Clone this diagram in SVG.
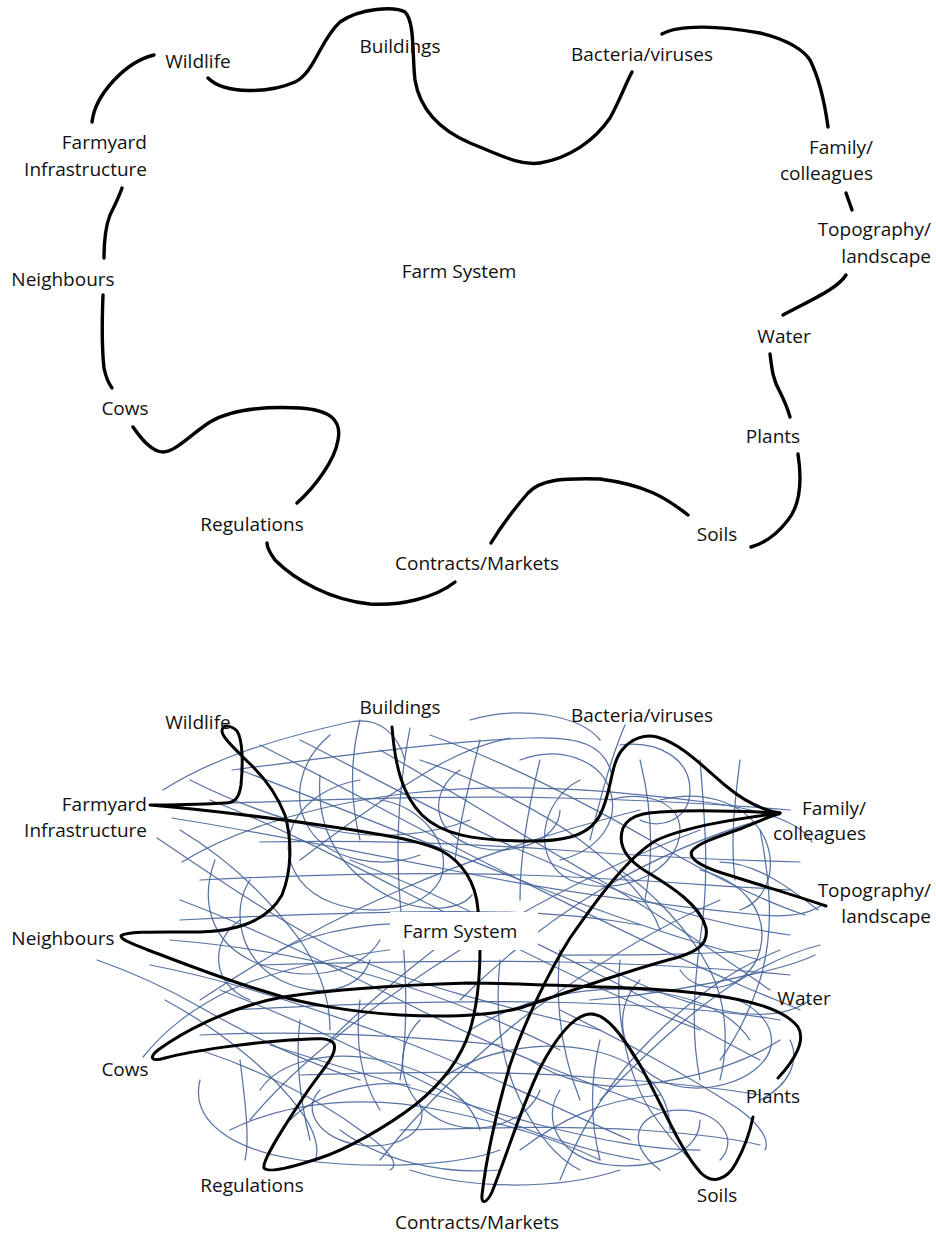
<svg xmlns="http://www.w3.org/2000/svg" width="936" height="1236" viewBox="0 0 936 1236">
<style>
text{font-family:"Open Sans","Liberation Sans",Arial,sans-serif;font-size:19px;fill:#111}
.m{text-anchor:middle}.e{text-anchor:end}
.k{fill:none;stroke:#000;stroke-width:3.4;stroke-linecap:round;stroke-linejoin:round}
.k2{fill:none;stroke:#000;stroke-width:3;stroke-linecap:round;stroke-linejoin:round}
.b{fill:none;stroke:#46649a;stroke-width:1.25;stroke-linecap:round;opacity:.9}
</style>
<rect width="936" height="1236" fill="#fff"/>

<g id="connectors-top">
<path class="k" d="M154,55 C125,62 95,95 92,122"/>
<path class="k" d="M208,78 C225,95 270,93 295,82 C315,72 320,40 340,22 C360,8 395,6 405,12 C415,22 412,55 415,80 C420,110 440,130 470,143 C500,155 520,166 540,163 C570,158 595,140 610,118 C620,100 625,85 632,72"/>
<path class="k" d="M662,34 C680,24 720,26 760,33 C790,40 805,52 810,60 C820,80 825,105 828,127"/>
<path class="k" d="M846,193 L852,210"/>
<path class="k" d="M846,275 C838,288 815,298 783,315"/>
<path class="k" d="M770,354 C772,370 773,380 780,392 C785,402 788,410 790,417"/>
<path class="k" d="M798,454 C802,480 800,505 788,520 C775,537 762,544 751,547"/>
<path class="k" d="M688,515 C665,497 645,485 600,479 C560,478 540,480 528,493 C515,508 500,528 491,543"/>
<path class="k" d="M455,582 C435,598 400,606 370,604 C330,600 295,580 275,560 C270,553 267,548 267,543"/>
<path class="k" d="M297,503 C315,487 335,460 338,440 C342,420 330,410 300,408 C260,406 230,410 210,422 C190,435 175,452 163,452 C152,452 142,440 133,427"/>
<path class="k" d="M103,295 C102,320 102,350 104,368 C106,378 109,384 112,388"/>
<path class="k" d="M104,258 C104,240 105,228 110,215 C115,205 119,197 122,188"/>
</g>

<g id="scribble">
<path class="b" d="M163,790 C210,760 270,740 350,722 C380,716 398,735 405,760"/>
<path class="b" d="M157,838 C220,880 290,930 360,960 C430,990 520,1010 600,1030"/>
<path class="b" d="M232,770 C330,758 430,742 530,738 C580,736 605,745 612,775"/>
<path class="b" d="M320,775 C316,830 340,872 392,898 C425,914 460,910 472,895"/>
<path class="b" d="M172,818 C260,832 360,852 460,872 C560,892 660,905 760,915 C795,918 812,912 822,905"/>
<path class="b" d="M182,862 C230,832 310,805 410,793 C510,782 610,790 705,802 C765,810 800,822 812,842"/>
<path class="b" d="M97,960 C140,975 170,990 200,1007 C240,1030 300,1060 360,1080"/>
<path class="b" d="M143,1057 C165,1030 190,1010 230,990 C300,960 400,945 500,940"/>
<path class="b" d="M240,770 C320,800 420,840 520,880 C600,912 680,940 760,960"/>
<path class="b" d="M260,745 C330,780 420,830 500,870 C580,910 660,950 740,985 C770,998 790,1005 800,1010"/>
<path class="b" d="M210,800 C300,835 380,880 460,920 C540,960 620,1000 700,1030"/>
<path class="b" d="M300,740 C360,770 440,815 520,850 C600,885 680,920 790,935"/>
<path class="b" d="M180,900 C260,930 340,970 420,1010 C500,1050 580,1080 660,1110"/>
<path class="b" d="M220,990 C300,1020 380,1060 460,1100 C520,1130 580,1150 640,1160"/>
<path class="b" d="M380,750 C450,790 530,840 600,880 C660,915 720,955 770,990"/>
<path class="b" d="M150,965 C230,980 320,1010 400,1040 C480,1070 560,1110 630,1140"/>
<path class="b" d="M430,735 C500,760 580,800 650,840 C710,875 760,900 805,915"/>
<path class="b" d="M270,1045 C350,1070 450,1100 540,1125 C600,1140 650,1150 700,1150"/>
<path class="b" d="M560,1010 C620,1040 680,1070 740,1110 C760,1125 770,1140 765,1150"/>
<path class="b" d="M350,860 C430,890 520,935 600,975 C660,1005 720,1040 760,1060"/>
<path class="b" d="M200,880 C300,875 420,872 520,875 C620,878 700,885 790,890"/>
<path class="b" d="M180,920 C280,915 400,910 500,912 C560,913 600,918 640,925"/>
<path class="b" d="M260,965 C360,962 460,960 560,962 C640,964 720,968 790,975"/>
<path class="b" d="M230,1010 C330,1005 440,1000 540,1002 C640,1004 720,1010 780,1020"/>
<path class="b" d="M300,1075 C400,1072 500,1070 600,1078 C660,1082 720,1088 760,1095"/>
<path class="b" d="M200,1035 C300,1030 400,1035 500,1045"/>
<path class="b" d="M260,842 C360,840 460,843 560,850 C640,856 720,860 800,862"/>
<path class="b" d="M400,1130 C480,1128 560,1125 640,1130 C700,1134 740,1140 760,1145"/>
<path class="b" d="M230,803 C330,800 440,795 560,798 C650,800 730,805 790,810"/>
<path class="b" d="M560,955 C630,955 700,955 760,950"/>
<path class="b" d="M360,780 C300,790 270,840 300,880 C330,920 420,920 440,880 C455,845 420,805 380,800"/>
<path class="b" d="M580,780 C540,800 530,860 570,880 C620,900 680,870 680,830 C680,800 640,790 610,800"/>
<path class="b" d="M200,1080 C190,1120 230,1150 300,1160 C380,1170 460,1165 500,1150"/>
<path class="b" d="M640,980 C610,1010 620,1060 660,1080 C700,1100 760,1080 770,1050 C780,1020 740,990 700,995"/>
<path class="b" d="M420,1020 C390,1050 400,1100 440,1120 C480,1140 530,1120 540,1090"/>
<path class="b" d="M250,880 C230,910 240,960 280,980 C320,1000 360,990 370,960"/>
<path class="b" d="M700,870 C740,880 770,910 760,950 C750,990 700,1000 680,970"/>
<path class="b" d="M560,1090 C540,1120 560,1160 610,1165 C660,1170 700,1150 700,1120"/>
<path class="b" d="M460,770 C430,790 430,830 470,845 C510,860 560,840 560,810"/>
<path class="b" d="M320,1090 C300,1110 320,1140 360,1145 C400,1150 430,1130 420,1105"/>
<path class="b" d="M620,745 C660,740 690,760 690,790 C690,820 660,830 640,820"/>
<path class="b" d="M240,920 C210,940 210,985 250,1000"/>
<path class="b" d="M250,1120 C300,1060 380,1000 460,950 C540,900 620,860 700,830"/>
<path class="b" d="M200,1000 C260,960 330,920 400,890 C480,855 560,830 640,810"/>
<path class="b" d="M380,1160 C420,1110 470,1060 520,1020 C580,975 650,930 720,900"/>
<path class="b" d="M300,860 C340,830 380,800 430,770 C460,752 490,742 510,738"/>
<path class="b" d="M560,1180 C580,1130 610,1080 650,1040 C690,1000 730,970 780,950"/>
<path class="b" d="M460,1000 C500,960 550,920 600,890 C660,855 720,830 780,815"/>
<path class="b" d="M600,1100 C640,1060 690,1010 740,980 C770,962 800,950 820,945"/>
<path class="b" d="M330,1040 C370,1000 420,960 460,930"/>
<path class="b" d="M410,728 C400,780 395,840 400,900 C405,960 410,1020 400,1080"/>
<path class="b" d="M500,960 C495,1010 500,1060 520,1100 C540,1140 560,1160 580,1170"/>
<path class="b" d="M560,950 C555,1000 560,1050 580,1100"/>
<path class="b" d="M700,760 C705,820 710,880 700,940 C695,980 690,1030 700,1080"/>
<path class="b" d="M620,960 C615,1010 625,1070 650,1110 C670,1140 690,1160 700,1170"/>
<path class="b" d="M300,1020 C295,1060 300,1100 310,1140"/>
<path class="b" d="M480,740 C470,780 460,820 455,860"/>
<path class="b" d="M240,1060 C245,1100 250,1140 245,1160"/>
<path class="b" d="M760,830 C770,880 775,930 760,980 C750,1010 735,1040 720,1060"/>
<path class="b" d="M640,760 C650,800 655,850 645,900"/>
<path class="b" d="M410,1170 C470,1190 560,1190 620,1170"/>
<path class="b" d="M660,1170 C620,1140 640,1110 680,1110 C720,1110 740,1140 720,1160"/>
<path class="b" d="M340,1130 C380,1160 440,1175 500,1170"/>
<path class="b" d="M760,1100 C790,1085 800,1060 790,1040"/>
<path class="b" d="M470,720 C520,705 580,715 600,740"/>
<path class="b" d="M625,725 C610,760 600,800 590,840"/>
<path class="b" d="M818,910 C780,880 750,862 720,862"/>
<path class="b" d="M190,780 C230,800 280,820 330,830 C380,840 430,835 470,820"/>
<path class="b" d="M215,860 C200,900 210,940 250,960 C300,985 360,975 380,940"/>
<path class="b" d="M330,735 C300,760 290,800 310,830 C330,860 380,870 420,855"/>
<path class="b" d="M520,760 C560,745 600,760 610,790 C620,820 600,850 560,860"/>
<path class="b" d="M660,800 C700,790 740,800 760,830 C780,860 770,900 740,910"/>
<path class="b" d="M170,940 C230,945 300,955 370,975 C440,995 500,1020 560,1050"/>
<path class="b" d="M590,960 C630,980 670,1000 720,1010 C760,1018 790,1015 810,1000"/>
<path class="b" d="M260,1090 C280,1060 330,1050 380,1060 C430,1070 470,1095 480,1130"/>
<path class="b" d="M440,1080 C480,1050 540,1040 590,1050 C640,1060 670,1090 670,1130"/>
<path class="b" d="M230,1130 C290,1100 370,1095 440,1110 C500,1122 560,1140 600,1160"/>
<path class="b" d="M200,1050 C260,1070 320,1100 360,1130 C390,1150 400,1165 390,1170"/>
<path class="b" d="M540,760 C530,800 520,850 520,900"/>
<path class="b" d="M360,720 C350,760 350,800 360,840"/>
<path class="b" d="M740,760 C735,800 730,840 735,880"/>
<path class="b" d="M600,1040 C590,1080 590,1120 600,1160"/>
<path class="b" d="M360,1000 C355,1040 360,1080 380,1110"/>
<path class="b" d="M530,1060 C560,1080 600,1090 640,1085 C700,1078 750,1060 780,1040"/>
<path class="b" d="M280,950 C320,930 380,920 430,925"/>
<path class="b" d="M420,760 C480,780 540,810 580,840 C620,870 650,900 660,930"/>
<path class="b" d="M180,830 C230,860 270,900 300,940 C320,970 330,1000 330,1030"/>
<path class="b" d="M590,1000 C650,995 710,985 770,970 C790,965 805,960 815,955"/>
<path class="b" d="M470,1030 C520,1000 580,985 640,990 C690,995 730,1010 750,1040"/>
<path class="b" d="M620,870 C650,890 690,930 710,970 C725,1000 730,1040 720,1080"/>
<path class="b" d="M520,1150 C560,1120 600,1100 660,1095"/>
<path class="b" d="M290,1120 C320,1090 370,1080 410,1085"/>
<path class="b" d="M165,1000 C220,1030 270,1070 300,1110 C315,1130 320,1150 315,1160"/>
</g>

<g id="connectors-bottom">
<path class="k2" d="M392,727 C395,765 402,795 422,815 C442,835 475,840 520,841 C560,842 588,838 600,815 C612,792 610,765 622,750 C632,738 645,734 657,737 C682,744 702,766 726,786 C745,802 762,810 780,813 C760,812 720,810 680,811 C652,812 630,812 623,828 C617,845 627,860 647,872 C672,887 700,905 706,928 C709,945 696,953 668,960 C620,973 560,995 520,1008 C488,1016 440,1017 400,1015 C350,1012 300,1003 270,993 C225,980 180,962 148,950 C133,944 121,940 121,936 C126,931 160,932 200,932 C240,931 268,920 282,895 C292,870 292,840 285,815 C276,792 262,775 248,762 C234,748 222,737 222,731 C222,724 231,725 237,731 C243,740 243,765 241,785 C239,800 233,803 225,803 C205,804 180,805 150,805 C185,808 250,815 320,825 C380,834 420,840 442,851 C462,862 476,882 478,910 C481,940 482,990 470,1030 C460,1062 440,1085 415,1105 C385,1128 345,1150 320,1158 C290,1168 268,1173 264,1168 C262,1160 285,1125 305,1095 C320,1072 338,1055 334,1044 C330,1036 310,1039 290,1040 C250,1043 195,1050 165,1058 C152,1062 148,1058 158,1050 C180,1034 225,1008 283,997 C330,990 400,985 468,983 C520,983 560,986 600,987 C640,988 680,990 710,995 C750,1000 785,1010 798,1027 C806,1040 795,1060 778,1078"/>
<path class="k2" d="M826,906 C800,897 760,885 722,873 C700,866 688,858 692,851 C698,843 720,836 740,829 C755,823 768,817 780,813 C745,818 690,825 657,840 C630,855 600,895 570,938 C550,970 525,1020 510,1065 C497,1110 486,1160 482,1195 C481,1205 487,1203 492,1192 C505,1160 522,1105 540,1068 C556,1038 574,1015 590,1014 C606,1013 622,1035 640,1065 C660,1100 680,1150 700,1172 C712,1185 727,1180 736,1163 C745,1147 750,1132 753,1117"/>
</g>

<g id="top-wildlife"><text class="m" x="198" y="68">Wildlife</text></g>
<g id="top-buildings"><text class="m" x="400" y="53">Buildings</text></g>
<g id="top-bacteria"><text class="m" x="642" y="61">Bacteria/viruses</text></g>
<g id="top-farmyard"><text class="e" x="147" y="149">Farmyard</text><text class="e" x="147" y="176">Infrastructure</text></g>
<g id="top-neighbours"><text class="m" x="63" y="286">Neighbours</text></g>
<g id="top-farm-system"><text class="m" x="459" y="278">Farm System</text></g>
<g id="top-family"><text class="e" x="873" y="154">Family/</text><text class="e" x="873" y="180">colleagues</text></g>
<g id="top-topography"><text class="e" x="931" y="236">Topography/</text><text class="e" x="931" y="263">landscape</text></g>
<g id="top-water"><text class="m" x="784" y="343">Water</text></g>
<g id="top-plants"><text class="m" x="773" y="443">Plants</text></g>
<g id="top-soils"><text class="m" x="717" y="541">Soils</text></g>
<g id="top-contracts"><text class="m" x="477" y="570">Contracts/Markets</text></g>
<g id="top-regulations"><text class="m" x="252" y="531">Regulations</text></g>
<g id="top-cows"><text class="m" x="125" y="415">Cows</text></g>

<g id="bot-farm-system"><rect x="390" y="912" width="148" height="38" fill="#fff"/><text class="m" x="460" y="938">Farm System</text></g>
<g id="bot-wildlife"><text class="m" x="198" y="729">Wildlife</text></g>
<g id="bot-buildings"><text class="m" x="400" y="714">Buildings</text></g>
<g id="bot-bacteria"><text class="m" x="642" y="722">Bacteria/viruses</text></g>
<g id="bot-farmyard"><text class="e" x="147" y="811">Farmyard</text><text class="e" x="147" y="837">Infrastructure</text></g>
<g id="bot-neighbours"><text class="m" x="63" y="945">Neighbours</text></g>
<g id="bot-family"><text class="e" x="866" y="815">Family/</text><text class="e" x="866" y="840">colleagues</text></g>
<g id="bot-topography"><text class="e" x="931" y="897">Topography/</text><text class="e" x="931" y="923">landscape</text></g>
<g id="bot-water"><text class="m" x="804" y="1005">Water</text></g>
<g id="bot-plants"><text class="m" x="773" y="1103">Plants</text></g>
<g id="bot-soils"><text class="m" x="717" y="1202">Soils</text></g>
<g id="bot-contracts"><text class="m" x="477" y="1229">Contracts/Markets</text></g>
<g id="bot-regulations"><text class="m" x="252" y="1192">Regulations</text></g>
<g id="bot-cows"><text class="m" x="125" y="1076">Cows</text></g>
</svg>
